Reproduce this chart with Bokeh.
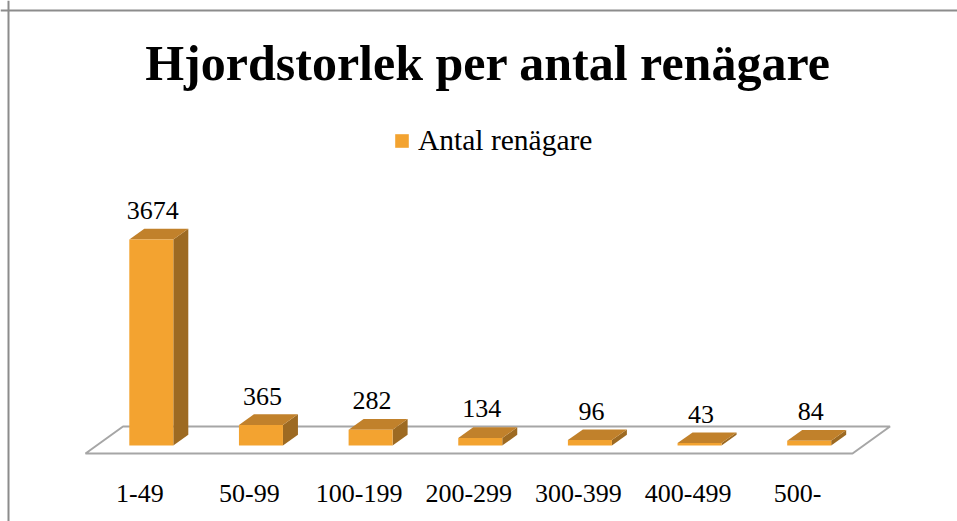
from bokeh.plotting import figure
from bokeh.models import ColumnDataSource, Legend, LegendItem, Span, Range1d
from bokeh.core.properties import value
from bokeh.embed import file_html
from bokeh.resources import INLINE
import numpy as np

title_text = "Hjordstorlek per antal renägare"
series_name = "Antal renägare"
categories = ["1-49", "50-99", "100-199", "200-299", "300-399", "400-499", "500-"]
owners = [3674, 365, 282, 134, 96, 43, 84]

W, H = 957, 521
OFF = 0          # page offset of the canvas
PX_PER_CAT = 109.65
PX_PER_UNIT = 206 / 3674
X0_PX = 150.8    # page x of first category centre
Y0_PX = 445      # page y of value 0

FONT = "Liberation Serif"
FRONT = "#F3A330"
TOP = "#C1812B"
SIDE = "#9D6A22"
GRID = "#A6A6A6"


def dx(px):
    return px / PX_PER_CAT


def dy(px):
    return px / PX_PER_UNIT


def sx(page_x):
    return (page_x - X0_PX) / PX_PER_CAT


def sy(page_y):
    return (Y0_PX - page_y) / PX_PER_UNIT


x_range = Range1d(sx(OFF), sx(OFF + W))
y_range = Range1d(sy(OFF + H), sy(OFF))

p = figure(width=W, height=H, x_range=x_range, y_range=y_range,
           output_backend="svg", toolbar_location=None,
           min_border=0, min_border_left=0, min_border_right=0,
           min_border_top=0, min_border_bottom=0)
p.axis.visible = False
p.grid.visible = False
p.outline_line_color = None
p.background_fill_color = "white"
p.border_fill_color = "white"

n = len(categories)
xi = np.arange(n, dtype=float)
v = np.array(owners, dtype=float)
hw = dx(22)
ddx, ddy = dx(15), dy(10.7)

# floor
fl_left, fl_right = -0.6, (n - 1) + 0.395
fy0, fy1 = dy(-8), dy(19)
fdx = dx(37.5)
p.patch([fl_left, fl_right, fl_right + fdx, fl_left + fdx],
        [fy0, fy0, fy1, fy1], fill_color=None, line_color=GRID, line_width=2)

src = ColumnDataSource(dict(
    x=xi, left=xi - hw, right=xi + hw, top=v, bottom=np.zeros(n),
    top_xs=[[l, r, r + ddx, l + ddx] for l, r in zip(xi - hw, xi + hw)],
    top_ys=[[t, t, t + ddy, t + ddy] for t in v],
    side_xs=[[r, r + ddx, r + ddx, r] for r in xi + hw],
    side_ys=[[0, ddy, t + ddy, t] for t in v],
))

p.patches("side_xs", "side_ys", source=src, fill_color=SIDE, line_color=None)
p.patches("top_xs", "top_ys", source=src, fill_color=TOP, line_color=None)
bars = p.quad(left="left", right="right", top="top", bottom="bottom",
              source=src, fill_color=FRONT, line_color=None)

# value labels
p.text(x=xi + dx(1.5), y=v + dy(29), text=[str(o) for o in owners],
       text_font=value(FONT), text_font_size="26px", text_align="center",
       text_baseline="alphabetic", text_color="black")

# category labels
p.text(x=xi - dx(11.5), y=[sy(492.5)] * n, text=categories,
       text_font=value(FONT), text_font_size="26px", text_align="center",
       text_baseline="alphabetic", text_color="black")

# title
p.text(x=[sx(487.5)], y=[sy(62.5)], text=[title_text],
       text_font=value(FONT), text_font_size="50px", text_font_style="bold",
       text_align="center", text_baseline="alphabetic", text_color="black")

# chart border (top & left visible in the crop)
p.add_layout(Span(location=sy(10), dimension="width", line_color="#8C8C8C", line_width=2))
p.add_layout(Span(location=sx(8), dimension="height", line_color="#8C8C8C", line_width=2))

legend = Legend(items=[LegendItem(label=series_name, renderers=[bars])],
                location=(393, 364.5), orientation="horizontal",
                padding=0, margin=0, spacing=0, border_line_color=None,
                background_fill_alpha=0, glyph_width=17, glyph_height=17,
                label_height=17, label_standoff=8,
                label_text_font=FONT, label_text_font_size="29.5px",
                label_text_color="black")
p.add_layout(legend)

open("out.html", "w").write(file_html(p, INLINE))
